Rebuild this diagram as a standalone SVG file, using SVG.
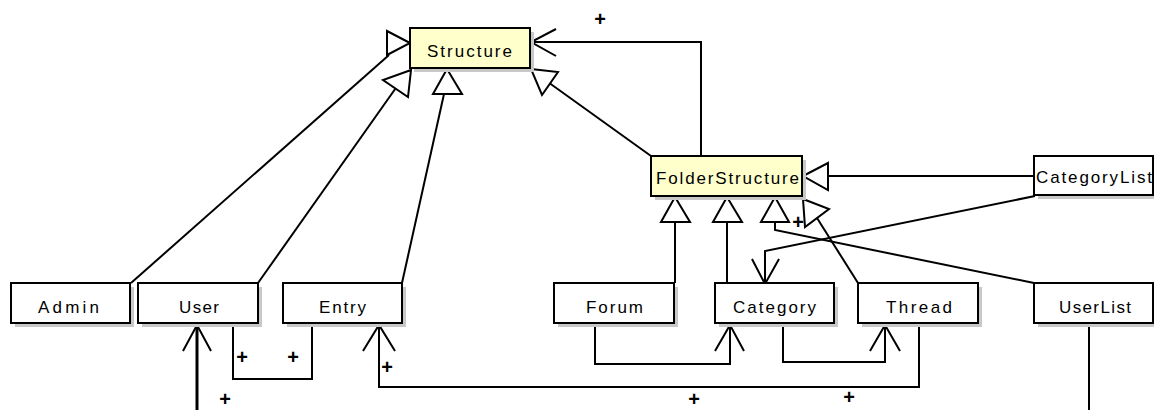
<svg xmlns="http://www.w3.org/2000/svg" width="1154" height="410" viewBox="0 0 1154 410">
<style>
.box{stroke:#000;stroke-width:2}
.plain{fill:#fff}
.yel{fill:#ffffcc}
.sh{fill:#c8c8c8}
.lbl{font-family:"Liberation Sans",Arial,sans-serif;font-size:17px;fill:#000}
.ln{fill:none;stroke:#000;stroke-width:2}
.tri{fill:#fff;stroke:#000;stroke-width:2;stroke-linejoin:miter}
.plus{font-family:"Liberation Sans",Arial,sans-serif;font-size:20px;font-weight:bold;fill:#000;text-anchor:middle}
</style>
<rect width="1154" height="410" fill="#fff"/>
<g id="connectors">
  <!-- Admin -> Structure -->
  <line class="ln" x1="131" y1="283" x2="389" y2="55"/>
  <polygon class="tri" points="410,43 387,31 387,55"/>
  <!-- User -> Structure -->
  <line class="ln" x1="258" y1="283" x2="395.5" y2="88.5"/>
  <polygon class="tri" points="411,70 383,80 408,97"/>
  <!-- Entry -> Structure -->
  <line class="ln" x1="402" y1="283" x2="444" y2="94"/>
  <polygon class="tri" points="447,69 433,94 462,94"/>
  <!-- FolderStructure -> Structure (generalization) -->
  <line class="ln" x1="651" y1="156" x2="550" y2="83.5"/>
  <polygon class="tri" points="531,69 558,72 542,95"/>
  <!-- FolderStructure -> Structure (association) -->
  <polyline class="ln" points="701,156 701,42 531,42"/>
  <polyline class="ln" points="556,29 531,42 556,56"/>
  <text class="plus" x="600" y="26">+</text>
  <!-- CategoryList -> FolderStructure -->
  <line class="ln" x1="1034" y1="176" x2="828" y2="176"/>
  <polygon class="tri" points="803,176 828,163 828,190"/>
  <!-- CategoryList -> Category -->
  <polyline class="ln" points="1035,196 765,251 765,283"/>
  <polyline class="ln" points="752,259 765,284 779,259"/>
  <!-- Forum -> FolderStructure -->
  <line class="ln" x1="675" y1="283" x2="675" y2="222"/>
  <polygon class="tri" points="675,197 661,222 690,222"/>
  <!-- Category -> FolderStructure -->
  <line class="ln" x1="727" y1="283" x2="727" y2="222"/>
  <polygon class="tri" points="727,197 713,222 742,222"/>
  <!-- UserList -> FolderStructure -->
  <polyline class="ln" points="1034,283 775,230 775,222"/>
  <polygon class="tri" points="775,197 761,222 789,222"/>
  <!-- Thread -> FolderStructure -->
  <line class="ln" x1="858" y1="283" x2="817" y2="218"/>
  <polygon class="tri" points="803,199 829,209 805,227"/>
  <text class="plus" x="798" y="229">+</text>
  <!-- Forum -> Category -->
  <polyline class="ln" points="595,323 595,364 730,364 730,325"/>
  <polyline class="ln" points="715,351 730,325 744,351"/>
  <!-- Category -> Thread -->
  <polyline class="ln" points="783,323 783,362 885,362 885,325"/>
  <polyline class="ln" points="870,351 885,325 900,351"/>
  <!-- Thread -> Entry -->
  <polyline class="ln" points="919,323 919,387 379,387 379,325"/>
  <polyline class="ln" points="363,351 379,325 395,351"/>
  <text class="plus" x="387" y="374">+</text>
  <text class="plus" x="694" y="406">+</text>
  <text class="plus" x="849" y="404">+</text>
  <!-- User - Entry -->
  <polyline class="ln" points="233,323 233,379 312,379 312,323"/>
  <text class="plus" x="242" y="364">+</text>
  <text class="plus" x="293" y="364">+</text>
  <!-- off-canvas -> User -->
  <line class="ln" style="stroke-width:3" x1="197" y1="410" x2="197" y2="326"/>
  <polyline class="ln" points="183,351 197,325 211,351"/>
  <text class="plus" x="225" y="406">+</text>
  <!-- UserList down -->
  <line class="ln" x1="1089" y1="323" x2="1089" y2="410"/>
</g>
<g id="Structure">
  <rect class="sh" x="414" y="32" width="120" height="40"/>
  <rect class="box yel" x="410" y="28" width="120" height="40"/>
  <text class="lbl" x="427" y="57" textLength="85" lengthAdjust="spacing">Structure</text>
</g>
<g id="FolderStructure">
  <rect class="sh" x="655" y="160" width="151" height="40"/>
  <rect class="box yel" x="651" y="156" width="151" height="40"/>
  <text class="lbl" x="656" y="184" textLength="143" lengthAdjust="spacing">FolderStructure</text>
</g>
<g id="CategoryList">
  <rect class="sh" x="1038" y="160" width="119" height="39"/>
  <rect class="box plain" x="1034" y="156" width="119" height="39"/>
  <text class="lbl" x="1036" y="183" textLength="116" lengthAdjust="spacing">CategoryList</text>
</g>
<g id="Admin">
  <rect class="sh" x="15" y="287" width="119" height="40"/>
  <rect class="box plain" x="11" y="283" width="119" height="40"/>
  <text class="lbl" x="38" y="313" textLength="61" lengthAdjust="spacing">Admin</text>
</g>
<g id="User">
  <rect class="sh" x="142" y="287" width="120" height="40"/>
  <rect class="box plain" x="138" y="283" width="120" height="40"/>
  <text class="lbl" x="179" y="313" textLength="40" lengthAdjust="spacing">User</text>
</g>
<g id="Entry">
  <rect class="sh" x="287" y="287" width="119" height="40"/>
  <rect class="box plain" x="283" y="283" width="119" height="40"/>
  <text class="lbl" x="319" y="313" textLength="47" lengthAdjust="spacing">Entry</text>
</g>
<g id="Forum">
  <rect class="sh" x="558" y="287" width="120" height="40"/>
  <rect class="box plain" x="554" y="283" width="120" height="40"/>
  <text class="lbl" x="586" y="313" textLength="57" lengthAdjust="spacing">Forum</text>
</g>
<g id="Category">
  <rect class="sh" x="719" y="287" width="119" height="40"/>
  <rect class="box plain" x="715" y="283" width="119" height="40"/>
  <text class="lbl" x="733" y="313" textLength="83" lengthAdjust="spacing">Category</text>
</g>
<g id="Thread">
  <rect class="sh" x="862" y="287" width="120" height="40"/>
  <rect class="box plain" x="858" y="283" width="120" height="40"/>
  <text class="lbl" x="886" y="313" textLength="66" lengthAdjust="spacing">Thread</text>
</g>
<g id="UserList">
  <rect class="sh" x="1038" y="287" width="119" height="40"/>
  <rect class="box plain" x="1034" y="283" width="119" height="40"/>
  <text class="lbl" x="1059" y="313" textLength="72" lengthAdjust="spacing">UserList</text>
</g>
</svg>
